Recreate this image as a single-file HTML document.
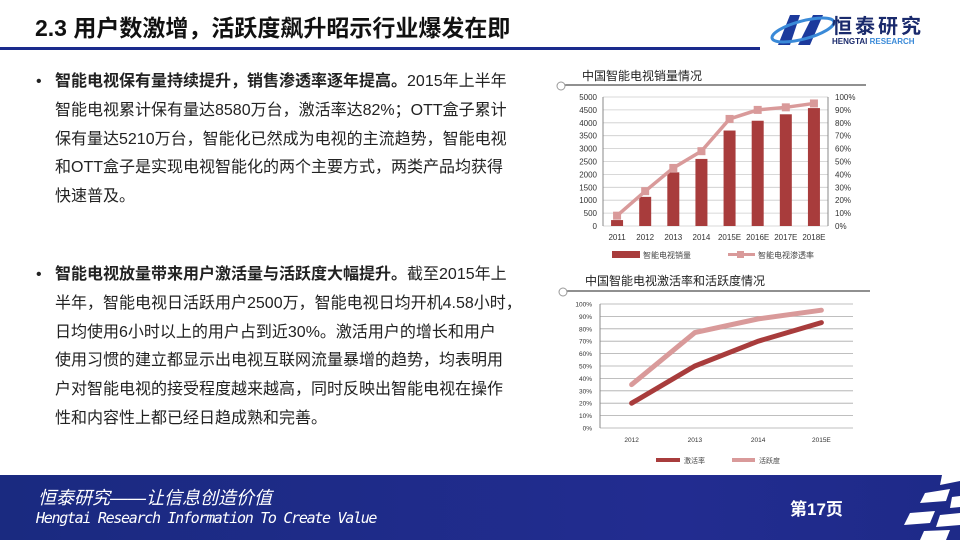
<!DOCTYPE html>
<html><head><meta charset="utf-8"><style>
body{margin:0;width:960px;height:540px;overflow:hidden;background:#fff;font-family:"Liberation Sans","Noto Sans CJK SC",sans-serif;position:relative}
.abs{position:absolute}
.t{font-size:16px;line-height:28.8px;color:#222;white-space:nowrap}
</style></head><body>
<div class="abs" style="left:35px;top:9px;font-size:23px;font-weight:bold;color:#111">2.3 用户数激增，活跃度飙升昭示行业爆发在即</div>
<div class="abs" style="left:0;top:47px;width:760px;height:3px;background:#1a2a8c"></div>
<div class="abs" style="left:768px;top:10px;width:180px;height:40px">
<svg width="70" height="40" style="position:absolute;left:0;top:0"><polygon points="10,35 22,5 32,5 22,35" fill="#1c3a9c"/><polygon points="30,35 45,5 55,5 42,35" fill="#1c3a9c"/><ellipse cx="35" cy="20" rx="32" ry="9" fill="none" stroke="#3a8ad8" stroke-width="3" transform="rotate(-15 35 20)"/></svg>
<div class="abs" style="left:64px;top:0;font-size:20px;font-weight:bold;color:#1a2a6c;letter-spacing:3px">恒泰研究</div>
<div class="abs" style="left:64px;top:27px;font-size:8px;font-weight:bold;color:#1a2a6c">HENGTAI <span style="color:#3a8ad8">RESEARCH</span></div>
</div>

<div class="abs t" style="left:36px;top:68px">
<div style="padding-left:19px;position:relative"><span style="position:absolute;left:0">•</span><b>智能电视保有量持续提升，销售渗透率逐年提高。</b>2015年上半年<br>智能电视累计保有量达8580万台，激活率达82%；OTT盒子累计<br>保有量达5210万台，智能化已然成为电视的主流趋势，智能电视<br>和OTT盒子是实现电视智能化的两个主要方式，两类产品均获得<br>快速普及。</div></div>
<div class="abs t" style="left:36px;top:261px">
<div style="padding-left:19px;position:relative"><span style="position:absolute;left:0">•</span><b>智能电视放量带来用户激活量与活跃度大幅提升。</b>截至2015年上<br>半年，智能电视日活跃用户2500万，智能电视日均开机4.58小时，<br>日均使用6小时以上的用户占到近30%。激活用户的增长和用户<br>使用习惯的建立都显示出电视互联网流量暴增的趋势，均表明用<br>户对智能电视的接受程度越来越高，同时反映出智能电视在操作<br>性和内容性上都已经日趋成熟和完善。</div></div>

<svg class="abs" style="left:0;top:0" width="960" height="475">
<g id="c1"></g>
<g id="c2"></g>
</svg>

<div class="abs" style="left:0;top:475px;width:960px;height:65px;background:linear-gradient(90deg,#1a2a80,#222c90 70%,#1e2a88)">
<svg class="abs" style="left:880px;top:0" width="80" height="65"><g fill="#fff"><polygon points="62,0 80,0 80,6 60,10"/><polygon points="45,18 70,14 66,26 40,28"/><polygon points="72,22 80,21 80,32 70,33"/><polygon points="30,38 55,36 50,48 24,50"/><polygon points="60,40 80,38 80,50 56,52"/><polygon points="44,56 70,55 66,65 40,65"/></g></svg>
<div class="abs" style="left:38px;top:9px;color:#fff;font-size:18px;font-style:italic">恒泰研究——让信息创造价值</div>
<div class="abs" style="left:36px;top:34px;color:#fff;font-size:15px;font-style:italic;font-family:'DejaVu Sans Mono',monospace;letter-spacing:-1.3px">Hengtai Research Information To Create Value</div>
<div class="abs" style="left:790px;top:20px;color:#fff;font-size:17px;font-weight:bold">第17页</div>
</div>

<script>
const ns="http://www.w3.org/2000/svg";
function mk(p,tag,at,txt){const e=document.createElementNS(ns,tag);for(const k in at)e.setAttribute(k,at[k]);if(txt!=null)e.textContent=txt;p.appendChild(e);return e;}
// chart 1 data
const cats1=["2011","2012","2013","2014","2015E","2016E","2017E","2018E"];
const sales=[230,1130,2080,2600,3700,4080,4330,4570];
const penetration=[8,27,45,58,83,90,92,95];
const leftTicks=[0,500,1000,1500,2000,2500,3000,3500,4000,4500,5000];
const rightTicks=[0,10,20,30,40,50,60,70,80,90,100];
// chart 2 data
const cats2=["2012","2013","2014","2015E"];
const activation=[20,50,70,85];
const activity=[35,77,88,95];
const ticks2=[0,10,20,30,40,50,60,70,80,90,100];

const c1=document.getElementById('c1');
let t=mk(c1,'text',{x:582,y:80,'font-size':12,fill:'#222'},'中国智能电视销量情况');


mk(c1,'line',{x1:565,y1:85,x2:866,y2:85,stroke:'#222','stroke-width':1});
mk(c1,'circle',{cx:561,cy:86,r:4,fill:'#fff',stroke:'#999'});
const L1=603,R1=828,T1=97,B1=226;
const y1=v=>B1-(v/5000)*(B1-T1), y1r=v=>B1-(v/100)*(B1-T1);
const bw1=(R1-L1)/cats1.length, x1=i=>L1+bw1*(i+0.5);
leftTicks.forEach(v=>{mk(c1,'line',{x1:L1,x2:R1,y1:y1(v),y2:y1(v),stroke:'#ccc','stroke-width':0.8});
const e=mk(c1,'text',{x:597,y:y1(v)+3,'font-size':8,'text-anchor':'end',fill:'#333'},v);
});
rightTicks.forEach(v=>{const e=mk(c1,'text',{x:835,y:y1r(v)+3,'font-size':8,fill:'#333'},v+'%');
});
mk(c1,'line',{x1:L1,x2:L1,y1:T1,y2:B1,stroke:'#888'});mk(c1,'line',{x1:R1,x2:R1,y1:T1,y2:B1,stroke:'#888'});
sales.forEach((v,i)=>{const r=mk(c1,'rect',{x:x1(i)-6,y:y1(v),width:12,height:B1-y1(v),fill:'#a83c3c'});

const e=mk(c1,'text',{x:x1(i),y:240,'font-size':8,'text-anchor':'middle',fill:'#333'},cats1[i]);
});
const pl=mk(c1,'polyline',{points:penetration.map((v,i)=>x1(i)+','+y1r(v)).join(' '),fill:'none',stroke:'#d99a9a','stroke-width':3.5});

penetration.forEach((v,i)=>{const m=mk(c1,'rect',{x:x1(i)-4,y:y1r(v)-4,width:8,height:8,fill:'#d99a9a'});
});
mk(c1,'rect',{x:612,y:251,width:28,height:7,fill:'#a83c3c'});
t=mk(c1,'text',{x:643,y:258,'font-size':8,fill:'#444'},'智能电视销量');
mk(c1,'line',{x1:728,x2:755,y1:254.5,y2:254.5,stroke:'#d99a9a','stroke-width':3});mk(c1,'rect',{x:737,y:251,width:7,height:7,fill:'#d99a9a'});
t=mk(c1,'text',{x:758,y:258,'font-size':8,fill:'#444'},'智能电视渗透率');

const c2=document.getElementById('c2');
t=mk(c2,'text',{x:585,y:285,'font-size':12,fill:'#222'},'中国智能电视激活率和活跃度情况');

mk(c2,'line',{x1:567,y1:291,x2:870,y2:291,stroke:'#222','stroke-width':1});
mk(c2,'circle',{cx:563,cy:292,r:4,fill:'#fff',stroke:'#999'});
const L2=600,R2=853,T2=304,B2=428;
const y2=v=>B2-(v/100)*(B2-T2);const bw2=(R2-L2)/cats2.length,x2=i=>L2+bw2*(i+0.5);
ticks2.forEach(v=>{mk(c2,'line',{x1:L2,x2:R2,y1:y2(v),y2:y2(v),stroke:'#aaa','stroke-width':0.8});
const e=mk(c2,'text',{x:592,y:y2(v)+2.5,'font-size':6.5,'text-anchor':'end',fill:'#333'},v+'%');
});
mk(c2,'line',{x1:L2,x2:L2,y1:T2,y2:B2,stroke:'#888'});
cats2.forEach((c,i)=>{const e=mk(c2,'text',{x:x2(i),y:442,'font-size':6.5,'text-anchor':'middle',fill:'#333'},c);
});
t=mk(c2,'polyline',{points:activity.map((v,i)=>x2(i)+','+y2(v)).join(' '),fill:'none',stroke:'#d99a9a','stroke-width':5,'stroke-linecap':'round'});

t=mk(c2,'polyline',{points:activation.map((v,i)=>x2(i)+','+y2(v)).join(' '),fill:'none',stroke:'#a83c3c','stroke-width':5,'stroke-linecap':'round'});

mk(c2,'line',{x1:656,x2:680,y1:460,y2:460,stroke:'#a83c3c','stroke-width':4});
t=mk(c2,'text',{x:684,y:463,'font-size':7,fill:'#444'},'激活率');
mk(c2,'line',{x1:732,x2:755,y1:460,y2:460,stroke:'#d99a9a','stroke-width':4});
t=mk(c2,'text',{x:759,y:463,'font-size':7,fill:'#444'},'活跃度');
</script>
</body></html>
